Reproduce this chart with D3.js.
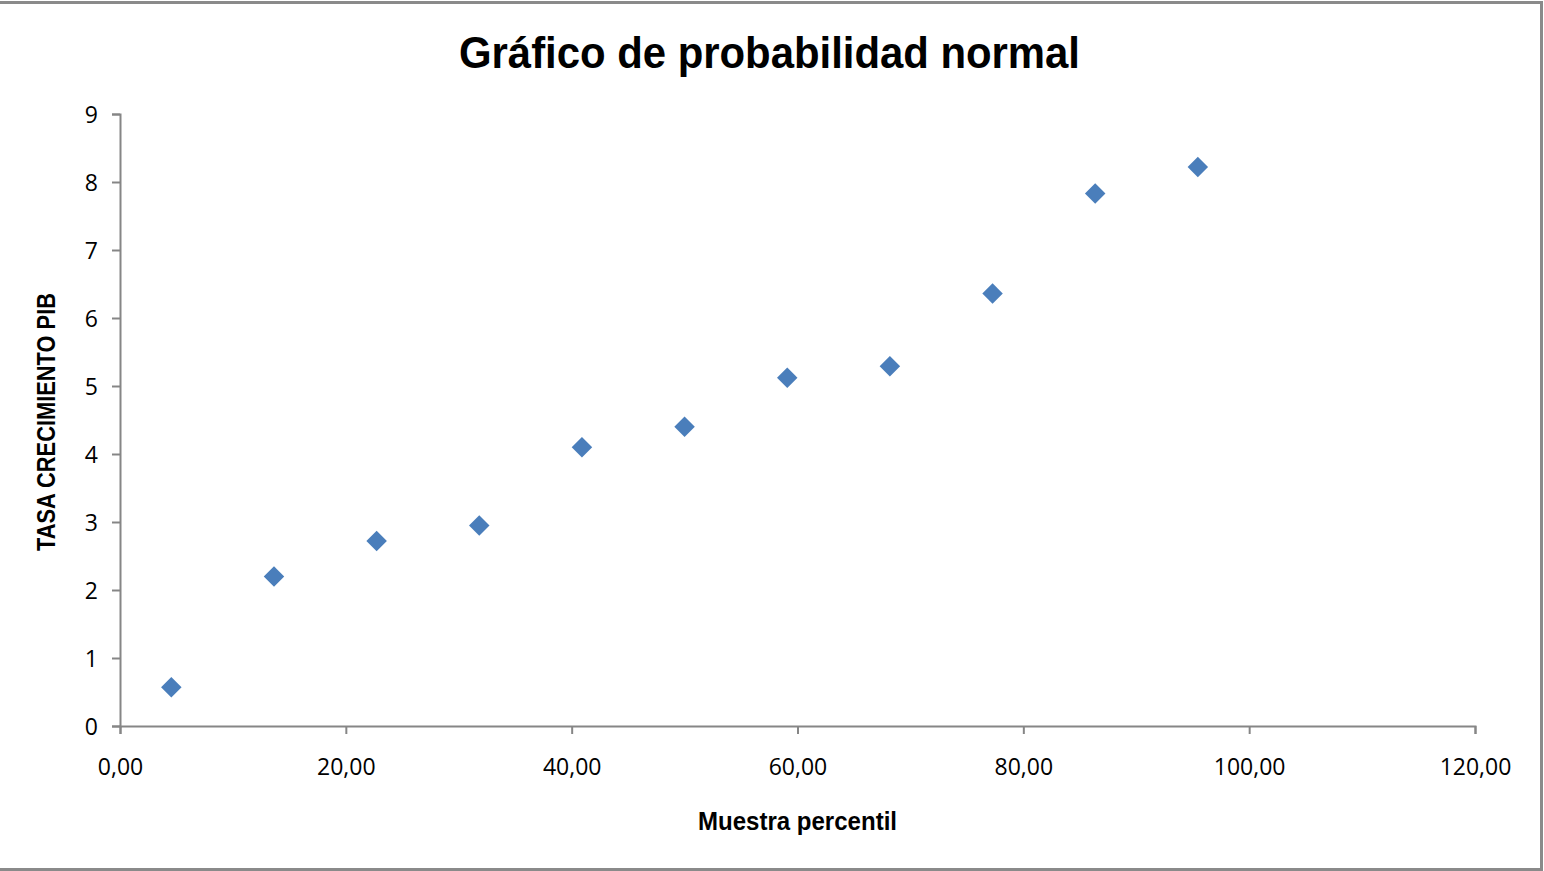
<!DOCTYPE html>
<html><head><meta charset="utf-8">
<script src="https://cdn.jsdelivr.net/npm/d3@7"></script>
<style>
body{margin:0;background:#fff;}
.cond{font-family:"Liberation Sans Narrow","Arial Narrow","Liberation Sans",sans-serif;font-weight:bold;}
.tick text{font-family:"Open Sans","Noto Sans",sans-serif;font-size:23px;fill:#000;}
</style></head>
<body><svg id="c" width="1544" height="871"></svg>
<script>
const percentiles = [4.545, 13.636, 22.727, 31.818, 40.909, 50.0, 59.091, 68.182, 77.273, 86.364, 95.455];
const growthRates = [0.57, 2.20, 2.72, 2.95, 4.10, 4.40, 5.12, 5.29, 6.36, 7.83, 8.22];
const xTicks = [0, 20, 40, 60, 80, 100, 120];
const yTicks = [0, 1, 2, 3, 4, 5, 6, 7, 8, 9];
const titleText = "Gráfico de probabilidad normal";
const xTitle = "Muestra percentil";
const yTitle = "TASA CRECIMIENTO PIB";

const svg = d3.select("#c");
svg.append("path").attr("d","M0,2.5H1541.5V869.5H0")
  .attr("fill","none").attr("stroke","#8a8a8a").attr("stroke-width",3);

const x = d3.scaleLinear().domain([0,120]).range([120,1475]);
const y = d3.scaleLinear().domain([0,9]).range([726,114]);
const fmt = d => d3.format(".2f")(d).replace(".", ",");

const gx = svg.append("g").attr("transform","translate(0,726)")
  .call(d3.axisBottom(x).tickValues(xTicks).tickFormat(fmt).tickSizeInner(8).tickSizeOuter(8).tickPadding(25));
const gy = svg.append("g").attr("transform","translate(120,0)")
  .call(d3.axisLeft(y).tickValues(yTicks).tickFormat(d3.format("d")).tickSizeInner(8).tickSizeOuter(8).tickPadding(14));
[gx,gy].forEach(g=>{
  g.select(".domain").attr("stroke","#868686").attr("stroke-width",2);
  g.selectAll(".tick line").attr("stroke","#868686").attr("stroke-width",2);
});
gx.selectAll(".tick text").attr("dy","0.71em");
gy.selectAll(".tick text").attr("dy","0.36em");

const sym = d3.symbol().type(d3.symbolSquare).size(210);
svg.append("g").selectAll("path").data(percentiles.map((p,i)=>[p,growthRates[i]]))
  .join("path").attr("d", sym)
  .attr("transform", d => `translate(${x(d[0])},${y(d[1])}) rotate(45)`)
  .attr("fill","#4a7ebb");

svg.append("text").attr("class","cond").attr("x",769.5).attr("y",68)
  .attr("text-anchor","middle").attr("font-size",45)
  .attr("textLength",621).attr("lengthAdjust","spacingAndGlyphs").text(titleText);
svg.append("text").attr("class","cond").attr("x",797.5).attr("y",830)
  .attr("text-anchor","middle").attr("font-size",25)
  .attr("textLength",199).attr("lengthAdjust","spacingAndGlyphs").text(xTitle);
svg.append("text").attr("class","cond").attr("transform","translate(55,422) rotate(-90)")
  .attr("text-anchor","middle").attr("font-size",25)
  .attr("textLength",258).attr("lengthAdjust","spacingAndGlyphs").text(yTitle);
</script></body></html>
